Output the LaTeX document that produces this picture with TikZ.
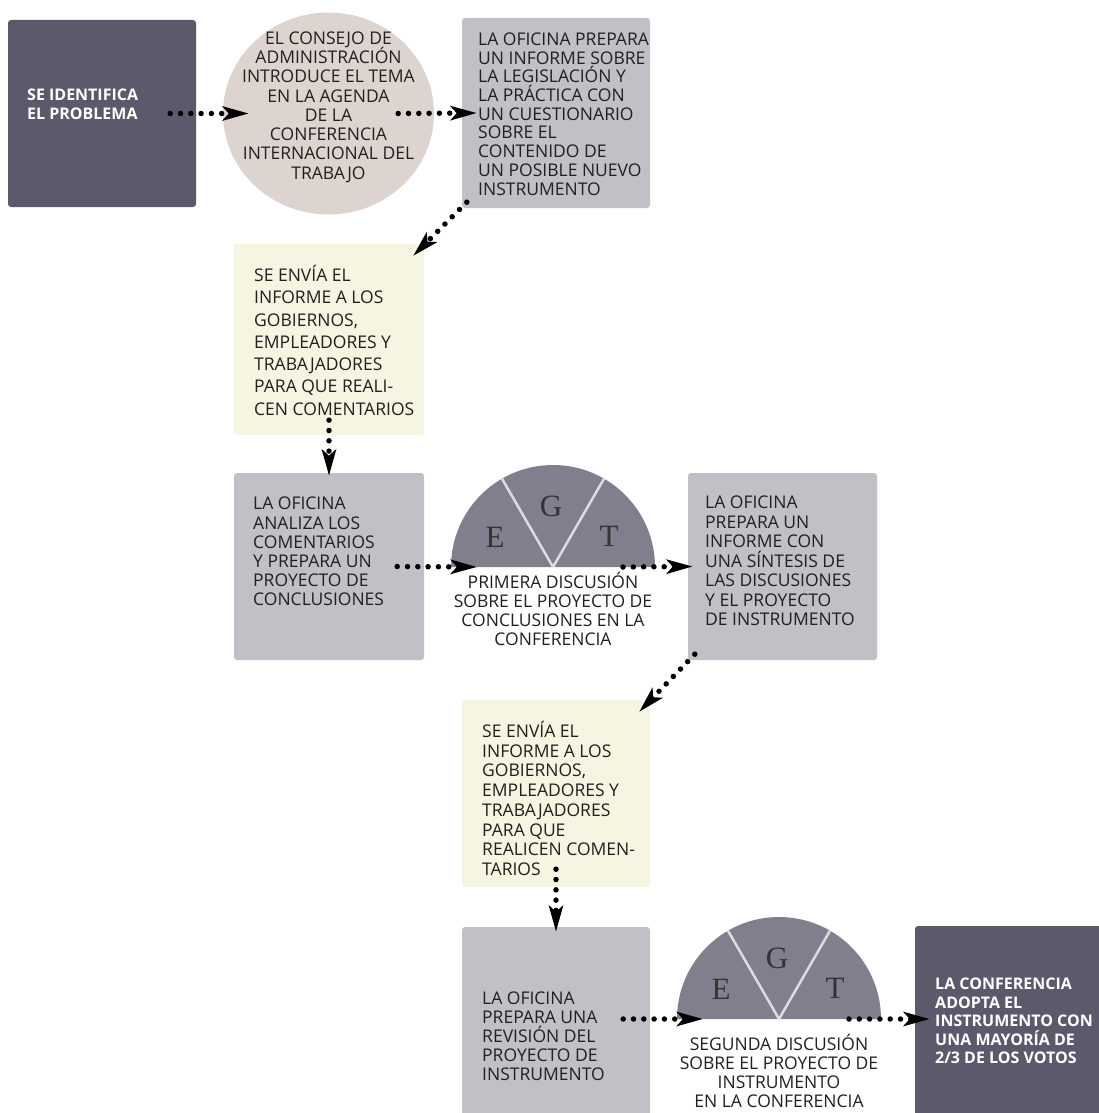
\documentclass[tikz,border=0pt]{standalone}
\usepackage{fontspec}
\setmainfont{Open Sans}
\newfontfamily\letterfont{Liberation Serif}
\usetikzlibrary{arrows.meta, calc, positioning, shapes.geometric}

\definecolor{darkbox}{HTML}{5D596C}
\definecolor{greybox}{HTML}{C1C0C6}
\definecolor{creambox}{HTML}{F5F5E1}
\definecolor{roundbox}{HTML}{DDD4CF}
\definecolor{halfdisc}{HTML}{827E8E}
\definecolor{divline}{HTML}{DCDCDC}
\definecolor{inktext}{HTML}{231F20}
\definecolor{lettergrey}{HTML}{333333}

\lineskiplimit=-100pt

\begin{document}
\begin{tikzpicture}[
    x=1pt, y=-1pt,
    box/.style={rectangle, rounded corners=3pt, minimum width=188pt, minimum height=187pt, inner sep=0pt},
    txt/.style={anchor=north west, inner sep=0pt, align=left, text=inktext,
        font=\fontsize{17.5}{19}\selectfont, execute at begin node={\rule{0pt}{18pt}}},
    boldtxt/.style={txt, text=white, font=\bfseries\fontsize{16}{19}\selectfont},
    caption/.style={txt, anchor=north, align=center},
    flow/.style={line width=5.5pt, line cap=round, dash pattern=on 0pt off 10.3pt,
        -{Stealth[length=26pt 0 0, width=14pt 0, inset=6pt 0]}},
    letter/.style={text=lettergrey, font=\letterfont\fontsize{31}{31}\selectfont, inner sep=0pt},
    divider/.style={draw=divline, line width=2.5pt}
]
\useasboundingbox (0,0) rectangle (1098,1113);

% Nodes
\node[box, fill=darkbox] (identify) at (102,113.5) {};
\node[ellipse, fill=roundbox, minimum width=211pt, minimum height=202pt, inner sep=0pt] (agenda) at (328.5,113.5) {};
\node[box, fill=greybox, minimum height=190pt] (report) at (556,113) {};
\node[box, fill=creambox, minimum width=190pt, minimum height=191pt] (sendA) at (329,339.5) {};
\node[box, fill=greybox, minimum width=190pt] (analyse) at (329,566.5) {};
\node[box, fill=greybox, minimum width=189pt] (synth) at (782.5,566.5) {};
\node[box, fill=creambox] (sendB) at (556,793.5) {};
\node[box, fill=greybox, minimum height=200pt] (revise) at (556,1027) {};
\node[box, fill=darkbox, minimum width=195pt, minimum height=200pt] (adopt) at (1012.5,1026) {};

% Half discs for the discussions
\coordinate (half1) at (553,567);
\coordinate (half2) at (779,1019);
\foreach \h in {half1, half2} {
    \fill[halfdisc] ($(\h)+(-102,0)$) arc[start angle=180, end angle=360, radius=102] -- cycle;
    \draw[divider] (\h) -- ++(-51,-88.3);
    \draw[divider] (\h) -- ++(51,-88.3);
    \node[letter] at ($(\h)+(-58,-30)$) {E};
    \node[letter] at ($(\h)+(-2,-61)$) {G};
    \node[letter] at ($(\h)+(56,-31)$) {T};
}

% Texts
\node[boldtxt] (identifytext) at (27,89) {SE IDENTIFICA\\EL PROBLEMA};
\node[caption, font=\fontsize{17.5}{19.25}\selectfont] (agendatext) at (328.5,31.5)
    {EL CONSEJO DE\\ADMINISTRACIÓN\\INTRODUCE EL TEMA\\EN LA AGENDA\\DE LA\\CONFERENCIA\\INTERNACIONAL DEL\\TRABAJO};
\node[txt, font=\fontsize{17.5}{18.7}\selectfont] (reporttext) at (478,32.6)
    {LA OFICINA PREPARA\\UN INFORME SOBRE\\LA LEGISLACIÓN Y\\LA PRÁCTICA CON\\UN CUESTIONARIO\\SOBRE EL\\CONTENIDO DE\\UN POSIBLE NUEVO\\INSTRUMENTO};
\node[txt, font=\fontsize{17.5}{22.3}\selectfont] (sendAtext) at (254,265)
    {SE ENVÍA EL\\INFORME A LOS\\GOBIERNOS,\\EMPLEADORES Y\\TRABAJADORES\\PARA QUE REALI-\\CEN COMENTARIOS};
\node[txt, font=\fontsize{17.5}{19.2}\selectfont] (analysetext) at (253,497)
    {LA OFICINA\\ANALIZA LOS\\COMENTARIOS\\Y PREPARA UN\\PROYECTO DE\\CONCLUSIONES};
\node[caption] (half1text) at (553,572)
    {PRIMERA DISCUSIÓN\\SOBRE EL PROYECTO DE\\CONCLUSIONES EN LA\\CONFERENCIA};
\node[txt, font=\fontsize{17.5}{19.5}\selectfont] (synthtext) at (705,496)
    {LA OFICINA\\PREPARA UN\\INFORME CON\\UNA SÍNTESIS DE\\LAS DISCUSIONES\\Y EL PROYECTO\\DE INSTRUMENTO};
\node[txt, font=\fontsize{17.5}{19.7}\selectfont] (sendBtext) at (482,721)
    {SE ENVÍA EL\\INFORME A LOS\\GOBIERNOS,\\EMPLEADORES Y\\TRABAJADORES\\PARA QUE\\REALICEN COMEN-\\TARIOS};
\node[txt, font=\fontsize{17.5}{18.8}\selectfont] (revisetext) at (482,992)
    {LA OFICINA\\PREPARA UNA\\REVISIÓN DEL\\PROYECTO DE\\INSTRUMENTO};
\node[caption] (half2text) at (779,1034)
    {SEGUNDA DISCUSIÓN\\SOBRE EL PROYECTO DE\\INSTRUMENTO\\EN LA CONFERENCIA};
\node[boldtxt, font=\bfseries\fontsize{16}{18.5}\selectfont] (adopttext) at (935,978)
    {LA CONFERENCIA\\ADOPTA EL\\INSTRUMENTO CON\\UNA MAYORÍA DE\\2/3 DE LOS VOTOS};

% Arrows between the steps
\draw[flow] ($(identify.east)+(-26,0)$) -- ($(agenda.west)+(26,0)$);
\draw[flow] ($(agenda.east)+(-36,0)$) -- ($(report.west)+(15,0)$);
\draw[flow] ($(report.south west)+(5,-6)$) -- ($(sendA.north east)+(-11,12)$);
\draw[flow] ($(sendA.south)+(0,-15)$) -- ($(analyse.north)+(0,3)$);
\draw[flow] ($(analyse.east)+(-27,0)$) -- ($(half1)+(-76,0)$);
\draw[flow] ($(half1)+(70,0)$) -- ($(synth.west)+(5,0)$);
\draw[flow] ($(synth.south west)+(7,-6)$) -- ($(sendB.north east)+(-11,12)$);
\draw[flow] ($(sendB.south)+(0,-18)$) -- ($(revise.north)+(0,5)$);
\draw[flow] ($(revise.east |- half2)+(-27,0)$) -- ($(half2)+(-76,0)$);
\draw[flow] ($(half2)+(70,0)$) -- ($(adopt.west |- half2)+(15,0)$);

\end{tikzpicture}
\end{document}
